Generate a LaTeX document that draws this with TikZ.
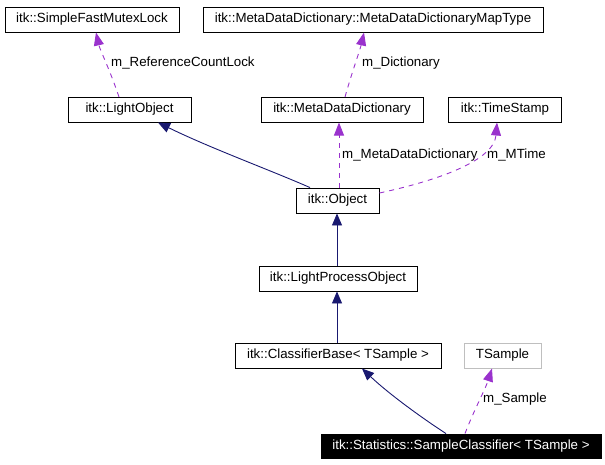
\documentclass[tikz,border=0pt]{standalone}
\usepackage{fontspec}
\setmainfont{Liberation Sans}
\usetikzlibrary{arrows.meta}
\definecolor{purp}{HTML}{9A32CD}
\definecolor{navyc}{HTML}{191970}
\definecolor{greyb}{HTML}{BFBFBF}
\begin{document}
\begin{tikzpicture}[x=1pt,y=-1pt,
  box/.style={draw=black,line width=0.9pt,fill=white,inner sep=0pt,minimum height=25pt,font=\fontsize{13.3}{16}\selectfont},
  lbl/.style={anchor=west,inner sep=0pt,font=\fontsize{13.3}{16}\selectfont},
  use/.style={draw=purp,line width=0.9pt,dash pattern=on 5pt off 5pt,-{Triangle[length=13pt,width=10pt]},color=purp},
  inh/.style={draw=navyc,line width=0.9pt,-{Triangle[length=12pt,width=10pt]},color=navyc}]
\useasboundingbox (0,0) rectangle (605,464);
\node[box,minimum width=174pt] (sfml) at (92,19.5) {itk::SimpleFastMutexLock};
\node[box,minimum width=340pt] (mapt) at (373,19.5) {itk::MetaDataDictionary::MetaDataDictionaryMapType};
\node[box,minimum width=123pt] (lo) at (129.5,109.5) {itk::LightObject};
\node[box,minimum width=162pt] (mdd) at (342,109.5) {itk::MetaDataDictionary};
\node[box,minimum width=113pt] (ts) at (505,109.5) {itk::TimeStamp};
\node[box,minimum width=83pt] (obj) at (337.5,200.5) {itk::Object};
\node[box,minimum width=158pt] (lpo) at (338,278.5) {itk::LightProcessObject};
\node[box,minimum width=206pt] (cb) at (338,355.5) {itk::ClassifierBase< TSample >};
\node[box,draw=greyb,minimum width=77pt] (tsmp) at (502.5,355.5) {TSample};
\node[box,fill=black,text=white,minimum width=280pt,minimum height=24pt] (sc) at (461,446) {itk::Statistics::SampleClassifier< TSample >};
\coordinate (loA) at (119,97);
\draw[use] (loA) .. controls (110,70) and (100,50) .. (96,32.5);
\node[lbl] (l1) at (111,63) {m\_ReferenceCountLock};
\coordinate (mddA) at (345,97);
\draw[use] (mddA) .. controls (352,72) and (360,50) .. (364,32.5);
\node[lbl] (l2) at (362,63) {m\_Dictionary};
\draw[use] (obj.north -| 339,0) -- (339,122.5);
\node[lbl] (l3) at (342,155) {m\_MetaDataDictionary};
\draw[use] (obj.east |- 0,193) .. controls (440,180) and (494,160) .. (497,122.5);
\node[lbl] (l4) at (487,155) {m\_MTime};
\draw[inh] (obj.north -| 310,0) .. controls (270,170) and (210,148) .. (158,122.5);
\draw[inh] (lpo.north -| 337,0) -- (obj.south -| 337,0);
\draw[inh] (cb.north -| 337,0) -- (lpo.south -| 337,0);
\draw[inh] (sc.north -| 446,0) .. controls (425,420) and (390,395) .. (362,368.5);
\draw[use] (sc.north -| 465,0) .. controls (474,410) and (485,390) .. (492,368.5);
\node[lbl] (l5) at (483,399) {m\_Sample};
\end{tikzpicture}
\end{document}
